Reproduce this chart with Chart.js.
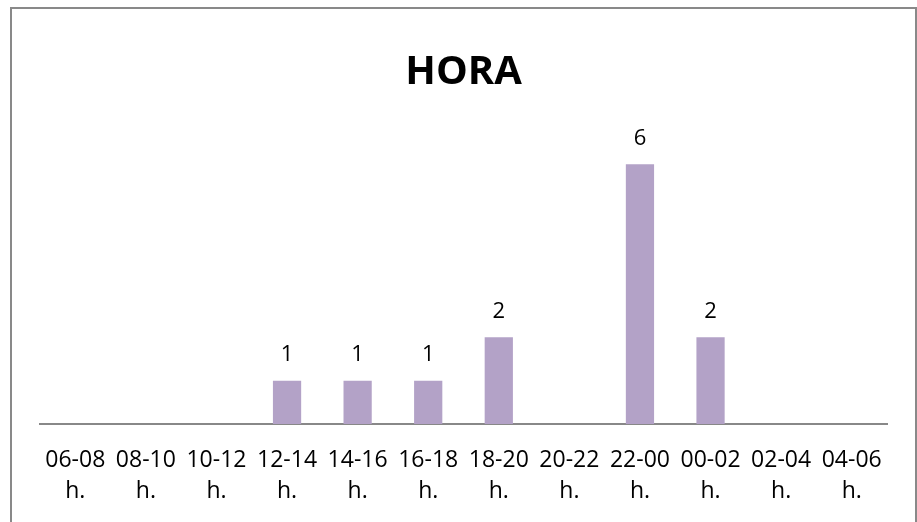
<!DOCTYPE html>
<html>
<head>
<meta charset="utf-8">
<script src="https://cdn.jsdelivr.net/npm/chart.js@4"></script>
<style>
  html, body { margin: 0; padding: 0; background: #ffffff; overflow: hidden; }
  #frame { position: absolute; left: 10px; top: 7px; width: 903px; height: 700px; border: 2px solid #898989; box-sizing: content-box; }
  #wrap { position: absolute; left: 0; top: 0; width: 917px; height: 522px; }
</style>
</head>
<body>
<div id="frame"></div>
<div id="wrap"><canvas id="c" width="917" height="522"></canvas></div>
<script>
const chartTitle = "HORA";
const categories = ["06-08", "08-10", "10-12", "12-14", "14-16", "16-18", "18-20", "20-22", "22-00", "00-02", "02-04", "04-06"];
const unitSuffix = "h.";
const values = [0, 0, 0, 1, 1, 1, 2, 0, 6, 2, 0, 0];
const yMax = 7;

const FONT = "'Open Sans', 'Liberation Sans', sans-serif";

const valueLabels = {
  id: 'valueLabels',
  afterDatasetsDraw(chart) {
    const ctx = chart.ctx;
    const meta = chart.getDatasetMeta(0);
    ctx.save();
    ctx.font = "22px " + FONT;
    ctx.fillStyle = "#000000";
    ctx.textAlign = "center";
    ctx.textBaseline = "middle";
    meta.data.forEach((bar, i) => {
      const v = values[i];
      if (v > 0) ctx.fillText(String(v), bar.x, bar.y - 26);
    });
    ctx.restore();
  }
};

new Chart(document.getElementById('c'), {
  type: 'bar',
  data: {
    labels: categories.map(c => [c, unitSuffix]),
    datasets: [{
      data: values,
      backgroundColor: '#B3A2C7',
      borderWidth: 0,
      categoryPercentage: 1.0,
      barPercentage: 0.4
    }]
  },
  options: {
    responsive: false,
    animation: false,
    layout: { padding: { left: 40, right: 30, top: 0, bottom: -6 } },
    plugins: {
      legend: { display: false },
      tooltip: { enabled: false },
      title: {
        display: true,
        text: chartTitle,
        color: '#000000',
        font: { family: FONT, size: 40, weight: 'bold', lineHeight: 1.2 },
        padding: { top: 49, bottom: 24 }
      }
    },
    scales: {
      x: {
        grid: { display: false, drawTicks: false },
        border: { display: true, color: '#888888', width: 2 },
        ticks: {
          color: '#000000',
          font: { family: FONT, size: 23, lineHeight: 1.35 },
          padding: 21,
          maxRotation: 0,
          autoSkip: false
        }
      },
      y: {
        display: false,
        min: 0,
        max: yMax
      }
    }
  },
  plugins: [valueLabels]
});
</script>
</body>
</html>
